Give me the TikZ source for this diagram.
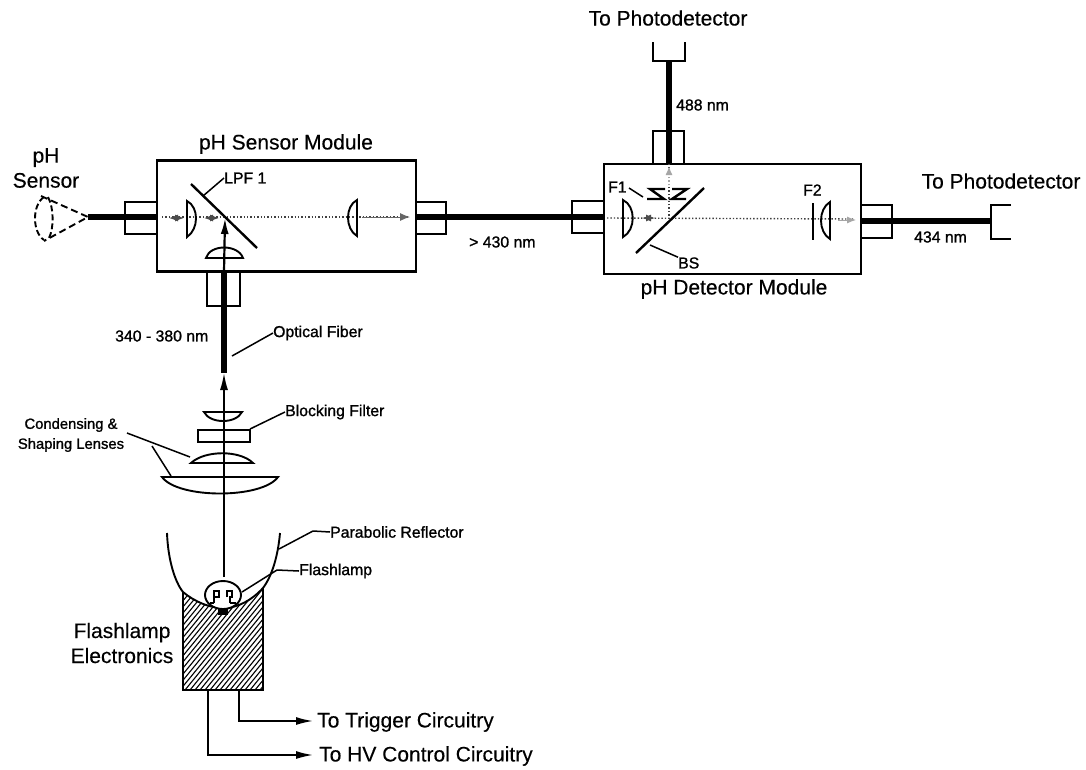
\documentclass[tikz,border=0pt]{standalone}
\usepackage{fontspec}
\setmainfont{Liberation Sans}
\newfontfamily\smallface[FakeBold=1.2]{Liberation Sans}
\usetikzlibrary{arrows.meta}
\tikzset{
  x=1pt,y=-1pt,
  big/.style={inner sep=0pt,align=center,font=\addfontfeature{FakeBold=0.3}\fontsize{21}{25}\selectfont},
  tiny/.style={inner sep=0pt,align=center,font=\smallface\fontsize{15.8}{20}\selectfont},
  line/.style={line width=1.9pt,draw=black},
  fiber/.style={line width=6pt,draw=black},
  beam/.style={line width=1.4pt,dotted,draw=black!75},
  leader/.style={line width=1.5pt,draw=black},
  tip/.style={-{Latex[length=17pt,width=8pt]},line width=1.7pt},
  fuzzy/.style={{Latex[length=9pt,width=7pt]}-{Latex[length=9pt,width=7pt]}},
}
\begin{document}
\begin{tikzpicture}
\useasboundingbox (0,0) rectangle (1086,769);
\fill[white] (0,0) rectangle (1086,769);

% named anchors
\coordinate (sensorApex) at (88,217);
\coordinate (sensorL) at (157,217);
\coordinate (sensorR) at (416,217);
\coordinate (detL) at (604,217);
\coordinate (detR) at (861,221);
\coordinate (cupR) at (991,221);
\coordinate (detT) at (669,164);
\coordinate (cupT) at (669,61);
\coordinate (sensorB) at (224,272);
\coordinate (fiberEnd) at (224,373);
\coordinate (lampTop) at (224,577);
\coordinate (mirrorC) at (225,218);
\coordinate (splitC) at (669,219);

% boxes
\node[draw,line width=2.3pt,minimum width=259pt,minimum height=111pt,inner sep=0pt] (sensorBox) at (286.5,216) {};
\node[draw,line width=2.3pt,minimum width=257pt,minimum height=110pt,inner sep=0pt] (detBox) at (732.5,219) {};

% ports
\draw[line] (157,202) -| (125,234) -- (157,234);
\draw[line] (416,202) -| (446,234) -- (416,234);
\draw[line] (207,272) |- (240,306) -- (240,272);
\draw[line] (604,201) -| (572,233) -- (604,233);
\draw[line] (861,205) -| (892,238) -- (861,238);
\draw[line] (653,164) |- (684,131) -- (684,164);

% fibres
\draw[fiber] (sensorApex) -- (sensorL);
\draw[fiber] (sensorR) -- (detL);
\draw[fiber] (detR) -- (cupR);
\draw[fiber] (cupT) -- (detT);
\draw[fiber] (sensorB) -- (fiberEnd);

% pH sensor tip
\draw[line,dash pattern=on 7pt off 4pt] (41,196) -- (sensorApex) -- (44,241);
\draw[line,dash pattern=on 6pt off 3pt] (44,197) .. controls (32,205) and (32,232) .. (44,240);
\draw[line,dash pattern=on 6pt off 3pt] (48,197) .. controls (54,208) and (54,228) .. (49,238);

% detector cups
\draw[line] (653,42) -- (653,61) -- (685,61) -- (685,42);
\draw[line] (1011,205) -- (991,205) -- (991,239) -- (1011,239);

% sensor module optics
\draw[beam] (162,217) -- (410,217);
\draw[fuzzy,black!70,line width=1.2pt] (169,218) -- (184,218);
\draw[fuzzy,black!70,line width=1.2pt] (204,218) -- (219,218);
\draw[-{Latex[length=10pt,width=8pt]},black!60,line width=1pt] (362,217) -- (410,217);
\draw[line width=2.4pt] (191,184) -- (257,248);
\draw[line] (187,201) .. controls (199,207) and (199,229) .. (187,237) -- cycle;
\draw[line] (357,200) .. controls (345,206) and (345,229) .. (357,236) -- cycle;
\draw[line] (206,258) .. controls (210,244) and (238,244) .. (243,258) -- cycle;
\draw[-{Latex[length=16pt,width=8pt]},line width=2.2pt] (sensorB) -- (mirrorC);

% detector module optics
\draw[beam] (607,218) -- (855,219);
\draw[beam] (splitC) -- (detT);
\draw[fuzzy,black!70,line width=1.2pt] (642,218) -- (655,218);
\draw[-{Latex[length=9pt,width=7pt]},black!35,line width=1pt] (838,220) -- (856,220);
\draw[-{Latex[length=9pt,width=7pt]},black!35,line width=1.5pt,dotted] (669,185) -- (669,166);
\draw[line] (623,200) .. controls (636,206) and (636,230) .. (623,237) -- cycle;
\draw[line width=2.4pt] (636,253) -- (704,188);
\draw[line width=2.4pt] (665,189) -- (650,189) -- (664,199) -- (647,199);
\draw[line width=2.4pt] (672,189) -- (687,189) -- (672,199) -- (686,199);
\draw[line width=2.3pt] (813,203) -- (813,240);
\draw[line] (830,202) .. controls (818,209) and (818,232) .. (830,239) -- cycle;

% excitation path lenses
\draw[line] (204,412) -- (242,412) .. controls (236,424) and (210,424) .. (204,412) -- cycle;
\node[draw,line width=2.2pt,minimum width=52pt,minimum height=12pt,inner sep=0pt] (blocking) at (224,436) {};
\draw[line] (191,463) .. controls (205,450) and (240,450) .. (253,463) -- cycle;
\draw[line] (162,477) -- (278,477) .. controls (262,499) and (178,499) .. (162,477) -- cycle;

% electronics block
\begin{scope}
\clip (183,592) .. controls (195,602) and (210,608) .. (223,608) .. controls (238,608) and (252,600) .. (263,588) -- (263,690) -- (183,690) -- cycle;
\foreach \k in {0,5,...,195} {
  \draw[line width=1.1pt] (180+\k-90,690) -- (180+\k,580);
}
\end{scope}
\draw[line width=2.6pt] (183,592) -- (183,690) -- (263,690) -- (263,588);

% reflector
\draw[line] (167,533) .. controls (168,560) and (175,582) .. (183,592) .. controls (195,602) and (210,608) .. (223,608) .. controls (238,608) and (252,600) .. (263,588) .. controls (272,576) and (278,556) .. (280,533);

% lamp
\fill[white] (205,581) rectangle (241,598);
\fill[white] (223,595) ellipse (18pt and 14pt);
\draw[line] (223,595) ellipse (18pt and 14pt);
\draw[line width=1.4pt] (214,603) -- (214,591) -- (219,591) -- (219,597) -- (214,597);
\draw[line width=1.4pt] (227,597) -- (227,591) -- (232,591) -- (232,597) -- (230,597) -- (230,603);
\draw[line width=1.4pt] (214,603) -- (210,603);
\draw[line width=1.4pt] (230,603) -- (236,603);
\fill (218,608) rectangle (228,615);

% main axis
\draw[tip] (lampTop) -- (fiberEnd);

% outputs
\coordinate (outA) at (239,690);
\coordinate (outB) at (208,690);
\coordinate (tipA) at (313,721);
\coordinate (tipB) at (313,755);
\draw[tip] (outA) |- (tipA);
\draw[tip] (outB) |- (tipB);

% labels
\node[big] (topPD) at (668,18) {To Photodetector};
\node[big] (rightPD) at (1001,181) {To Photodetector};
\node[big] (sensorMod) at (286,144) {pH Sensor Module};
\node[big] (detMod) at (734,289) {pH Detector Module};
\node[big] (phSensor) at (46,168) {pH\\Sensor};
\node[big,align=center] (electronics) at (122,643) {Flashlamp\\Electronics};
\node[big,anchor=west] (trigger) at (317,722) {To Trigger Circuitry};
\node[big,anchor=west] (hv) at (319,756) {To HV Control Circuitry};

\node[tiny,anchor=west] (lpf) at (224,178) {LPF 1};
\node[tiny,anchor=west] (f1) at (608,187) {F1};
\node[tiny,anchor=west] (f2) at (803,190) {F2};
\node[tiny,anchor=west] (bs) at (678,263) {BS};
\node[tiny,anchor=west] (n488) at (676,105) {488 nm};
\node[tiny,anchor=west] (n434) at (914,237) {434 nm};
\node[tiny,anchor=west] (n430) at (469,242) {> 430 nm};
\node[tiny,anchor=west] (n340) at (115,336) {340 - 380 nm};
\node[tiny,anchor=west] (optfib) at (273,333) {Optical Fiber};
\node[tiny,anchor=west] (blockF) at (285,412) {Blocking Filter};
\node[tiny,anchor=west] (parab) at (330,532) {Parabolic Reflector};
\node[tiny,anchor=west] (lampL) at (299,571) {Flashlamp};
\node[inner sep=0pt,align=center,font=\smallface\fontsize{14.8}{20}\selectfont] (cond) at (71,435) {Condensing \&\\Shaping Lenses};

% leaders
\coordinate (k1) at (203,196);
\draw[leader] (k1) -- (lpf.west);
\coordinate (k2) at (643,197);
\draw[leader] (k2) -- (629,188);
\coordinate (k3) at (650,245);
\draw[leader] (k3) -- (bs.north west);
\coordinate (k4) at (232,356);
\draw[leader] (k4) -- (optfib.west);
\coordinate (k5) at (250,429);
\draw[leader] (k5) -- (blockF.west);
\coordinate (k6) at (279,549);
\coordinate (k6b) at (313,531);
\draw[leader] (k6) -- (k6b) -- (parab.west);
\coordinate (k7) at (242,592);
\coordinate (k7b) at (277,570);
\draw[leader] (k7) -- (k7b) -- (lampL.west);
\coordinate (k8) at (127,433);
\coordinate (k8a) at (190,457);
\coordinate (k8b) at (152,446);
\coordinate (k8c) at (171,476);
\draw[leader] (k8) -- (k8a);
\draw[leader] (k8b) -- (k8c);
\end{tikzpicture}
\end{document}
